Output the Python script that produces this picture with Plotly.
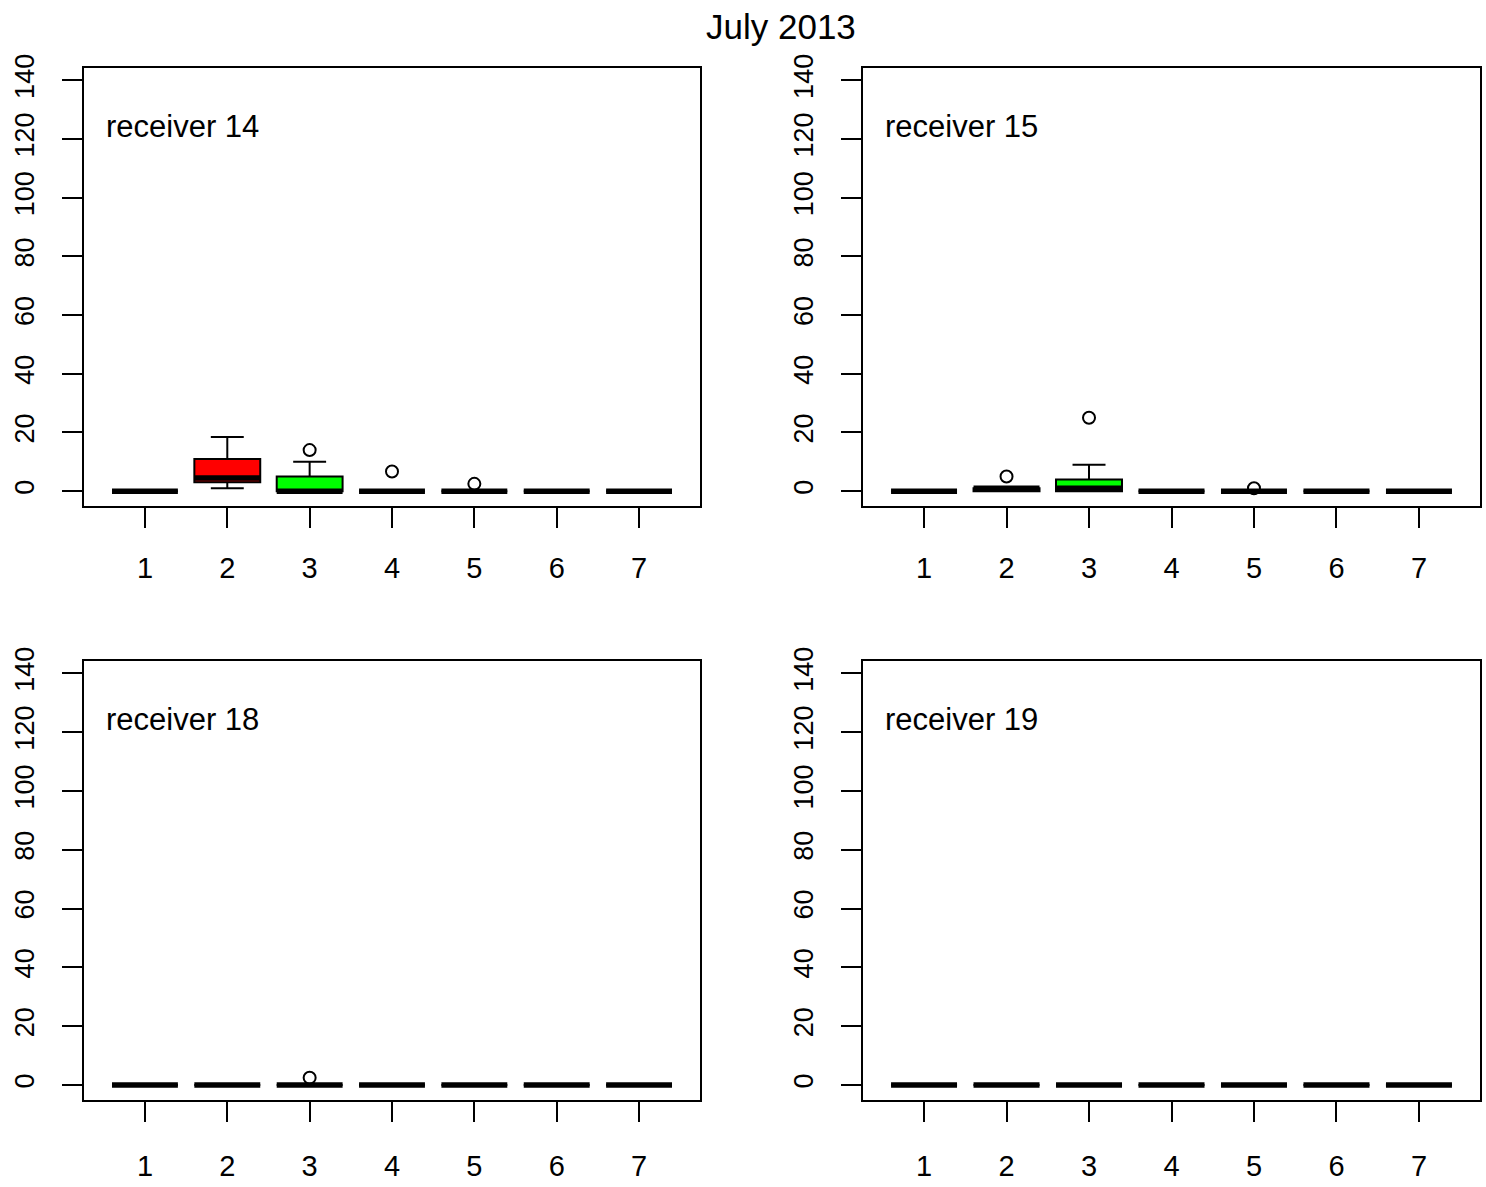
import plotly.graph_objects as go

# ---------------- data ----------------
groups = [1, 2, 3, 4, 5, 6, 7]
receivers = ["receiver 14", "receiver 15", "receiver 18", "receiver 19"]

# per-receiver box statistics (lower whisker, Q1, median, Q3, upper whisker)
r14_low = [0, 1, 0, 0, 0, 0, 0]
r14_q1 = [0, 3, 0, 0, 0, 0, 0]
r14_med = [0, 4.5, 0, 0, 0, 0, 0]
r14_q3 = [0, 11, 5, 0, 0, 0, 0]
r14_high = [0, 18.5, 10, 0, 0, 0, 0]
r14_out_x = [3, 4, 5]
r14_out_y = [14, 6.7, 2.5]

r15_low = [0, 0, 0, 0, 0, 0, 0]
r15_q1 = [0, 0, 0, 0, 0, 0, 0]
r15_med = [0, 1, 1, 0, 0, 0, 0]
r15_q3 = [0, 1, 4, 0, 0, 0, 0]
r15_high = [0, 1, 9, 0, 0, 0, 0]
r15_out_x = [2, 3, 5]
r15_out_y = [5, 25, 1]

r18_low = [0, 0, 0, 0, 0, 0, 0]
r18_q1 = [0, 0, 0, 0, 0, 0, 0]
r18_med = [0, 0, 0, 0, 0, 0, 0]
r18_q3 = [0, 0, 0, 0, 0, 0, 0]
r18_high = [0, 0, 0, 0, 0, 0, 0]
r18_out_x = [3]
r18_out_y = [2.5]

r19_low = [0, 0, 0, 0, 0, 0, 0]
r19_q1 = [0, 0, 0, 0, 0, 0, 0]
r19_med = [0, 0, 0, 0, 0, 0, 0]
r19_q3 = [0, 0, 0, 0, 0, 0, 0]
r19_high = [0, 0, 0, 0, 0, 0, 0]
r19_out_x = []
r19_out_y = []

group_colors = ["white", "#ff0000", "#00ff00", "white", "white", "white", "white"]

y_ticks = [0, 20, 40, 60, 80, 100, 120, 140]
title = "July 2013"

panels = [
    (receivers[0], r14_low, r14_q1, r14_med, r14_q3, r14_high, r14_out_x, r14_out_y),
    (receivers[1], r15_low, r15_q1, r15_med, r15_q3, r15_high, r15_out_x, r15_out_y),
    (receivers[2], r18_low, r18_q1, r18_med, r18_q3, r18_high, r18_out_x, r18_out_y),
    (receivers[3], r19_low, r19_q1, r19_med, r19_q3, r19_high, r19_out_x, r19_out_y),
]

# ---------------- layout geometry ----------------
W, H = 1486, 1187
x_domains = [(84 / W, 700 / W), (863 / W, 1480 / W)]
y_domains = [(1 - 498 / H, 1 - 55 / H), (1 - 1099 / H, 1 - 655 / H)]
x_standoff = [15, 19]
BOXW = 0.8
FONT = "Liberation Sans, Arial, sans-serif"

fig = go.Figure()
layout = dict(
    width=W, height=H,
    margin=dict(l=0, r=0, t=0, b=0),
    paper_bgcolor="white", plot_bgcolor="white",
    showlegend=False,
    font=dict(family=FONT, color="black"),
    annotations=[],
)

for i, (name, lo, q1, med, q3, hi, ox, oy) in enumerate(panels):
    row, col = divmod(i, 2)
    n = i + 1
    xa = "x" if n == 1 else f"x{n}"
    ya = "y" if n == 1 else f"y{n}"
    for g, l, a, m, b, h, c in zip(groups, lo, q1, med, q3, hi, group_colors):
        fig.add_trace(go.Box(
            x=[g], lowerfence=[l], q1=[a], median=[m], q3=[b], upperfence=[h],
            width=BOXW, whiskerwidth=0.5, fillcolor=c,
            line=dict(color="black", width=2), boxpoints=False,
            xaxis=xa, yaxis=ya, hoverinfo="skip",
        ))
    # thick median segments
    mx, my = [], []
    for g, m in zip(groups, med):
        mx += [g - BOXW / 2, g + BOXW / 2, None]
        my += [m, m, None]
    fig.add_trace(go.Scatter(x=mx, y=my, mode="lines",
                             line=dict(color="black", width=5.5),
                             xaxis=xa, yaxis=ya, hoverinfo="skip"))
    # outliers
    fig.add_trace(go.Scatter(x=ox, y=oy, mode="markers",
                             marker=dict(symbol="circle-open", size=12,
                                         color="black", line=dict(width=2)),
                             xaxis=xa, yaxis=ya, hoverinfo="skip"))

    axis_common = dict(showline=True, linecolor="black", linewidth=2, mirror=True,
                       ticks="outside", ticklen=20, tickwidth=2, tickcolor="black",
                       showgrid=False, zeroline=False)
    layout["xaxis" if n == 1 else f"xaxis{n}"] = dict(
        axis_common, domain=x_domains[col], range=[0.26, 7.74],
        tickvals=groups, ticktext=[str(g) for g in groups],
        tickfont=dict(family=FONT, size=29, color="black"),
        anchor=ya, ticklabelstandoff=x_standoff[row])
    layout["yaxis" if n == 1 else f"yaxis{n}"] = dict(
        axis_common, domain=y_domains[row], range=[-5.1, 144.1],
        tickvals=y_ticks, ticktext=[str(t) for t in y_ticks],
        tickfont=dict(family=FONT, size=27, color="black"),
        tickangle=-90, anchor=xa, ticklabelstandoff=17)
    layout["annotations"].append(dict(
        text=name, xref=f"{xa} domain", yref=f"{ya} domain",
        x=(104 - 84) / 616, y=0.867, xanchor="left", yanchor="middle",
        showarrow=False, font=dict(family=FONT, size=31, color="black")))

layout["annotations"].append(dict(
    text=title, xref="paper", yref="paper", x=781 / W, y=1 - 13 / H,
    xanchor="center", yanchor="middle", showarrow=False,
    font=dict(family=FONT, size=35, color="black")))

fig.update_layout(**layout)
fig.write_html("out.html", config={"displayModeBar": False},
               post_script="document.body.style.margin='0';document.body.style.overflow='hidden';")
